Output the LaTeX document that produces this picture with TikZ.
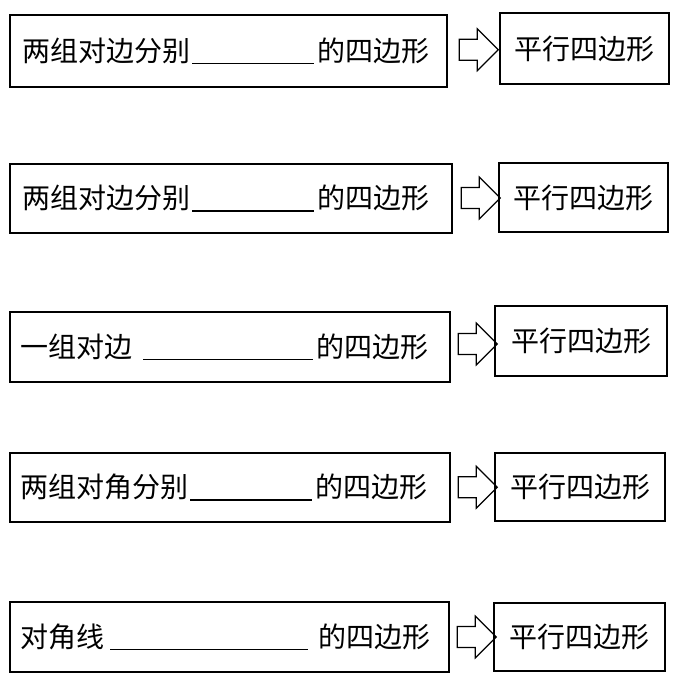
\documentclass[tikz,border=0pt]{standalone}
\usepackage{fontspec}
\setmainfont{Noto Sans CJK SC}
\usetikzlibrary{shapes.arrows,calc}
\newcommand\blankline[1]{\kern2pt\rule[-3pt]{#1}{1.8pt}\kern3pt}
\tikzset{
  condbox/.style={draw, line width=1.2pt, inner xsep=12pt, inner ysep=0pt, align=left},
  resbox/.style={draw, line width=1.2pt, inner sep=0pt, align=center},
  impl/.style={draw, line width=1.2pt, single arrow, single arrow head extend=10pt,
    inner xsep=0pt, inner ysep=9.5pt, minimum width=42pt, minimum height=39pt}
}
\begin{document}
\begin{tikzpicture}[x=1pt, y=-1pt, font=\fontsize{28}{31}\selectfont]
\useasboundingbox (0,0) rectangle (689,695);
% conditions
\node[condbox, text width=413pt, minimum height=72pt] (l1) at (228.5,51) {两组对边分别\blankline{122pt}的四边形};
\node[condbox, text width=418pt, minimum height=69pt] (l2) at (231,198.5) {两组对边分别\blankline{122pt}的四边形};
\node[condbox, inner xsep=10pt, text width=420pt, minimum height=70pt] (l3) at (230,347) {一组对边\kern9pt\blankline{170pt}的四边形};
\node[condbox, inner xsep=10pt, text width=420pt, minimum height=69pt] (l4) at (230,487.5) {两组对角分别\blankline{122pt}的四边形};
\node[condbox, inner xsep=10pt, text width=419pt, minimum height=70pt] (l5) at (229.5,637) {对角线\kern4pt\blankline{198pt}\kern7pt的四边形};
% conclusions
\node[resbox, minimum width=169pt, minimum height=71pt] (r1) at (584.5,48.5) {平行四边形};
\node[resbox, minimum width=169pt, minimum height=69pt] (r2) at (583.5,197.5) {平行四边形};
\node[resbox, minimum width=172pt, minimum height=70pt] (r3) at (581,341) {平行四边形};
\node[resbox, minimum width=170pt, minimum height=68pt] (r4) at (580,487) {平行四边形};
\node[resbox, minimum width=171pt, minimum height=68pt] (r5) at (579.5,637) {平行四边形};
% implications
\foreach \i in {1,...,5}
  \node[impl] (a\i) at ($(l\i.east)!0.5!(r\i.west)$) {};
\end{tikzpicture}
\end{document}
